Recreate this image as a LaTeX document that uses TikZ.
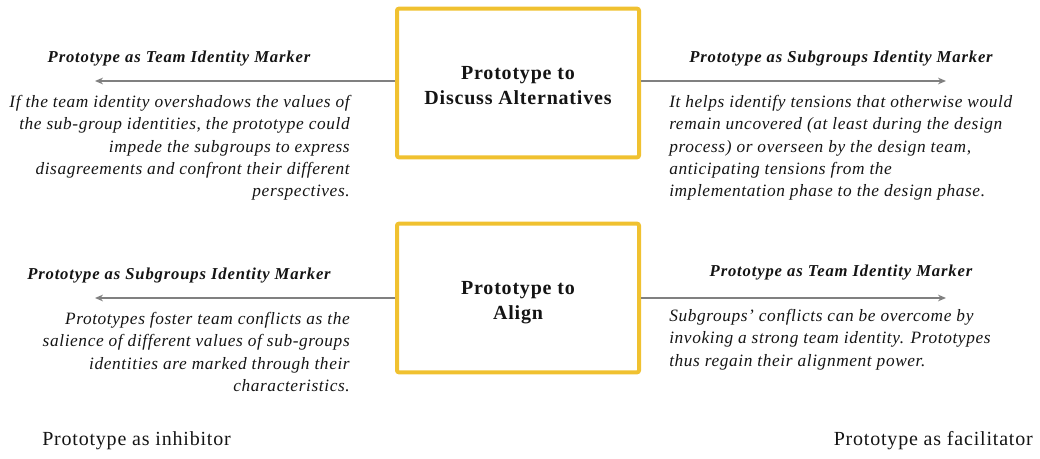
\documentclass[tikz,border=0pt]{standalone}
\usepackage{fontspec}
\setmainfont{Liberation Serif}
\newfontfamily\boxfont[LetterSpace=4]{Liberation Serif}
\newfontfamily\headfont[LetterSpace=5]{Liberation Serif}
\newfontfamily\parafont[LetterSpace=3.5]{Liberation Serif}
\newfontfamily\footfont[LetterSpace=4]{Liberation Serif}
\usetikzlibrary{arrows.meta}
\definecolor{gold}{RGB}{240,193,48}
\definecolor{arrgray}{RGB}{128,128,128}
\definecolor{txt}{RGB}{20,20,20}
\tikzset{
  box/.style={draw=gold, line width=3pt, rounded corners=1.5pt, minimum width=181.5pt, minimum height=111.5pt, align=center, font=\boxfont\fontsize{15}{19}\selectfont\bfseries, text=txt},
  arr/.style={draw=arrgray, line width=1.1pt, -{Stealth[length=6pt,width=5pt]}},
  head/.style={font=\headfont\fontsize{12.5}{14}\selectfont\bfseries\itshape, text=txt, inner sep=0pt},
  para/.style={font=\parafont\fontsize{13}{16.7}\selectfont\itshape, text=txt, inner sep=0pt},
  foot/.style={font=\footfont\fontsize{15}{17}\selectfont, text=txt, inner sep=0pt}
}
\begin{document}
\begin{tikzpicture}[x=0.75pt,y=-0.75pt]
\useasboundingbox (0,0) rectangle (1040,459);
\node[box] (b1) at (518,83) {\rule{0pt}{14pt}Prototype to\\Discuss Alternatives};
\node[box] (b2) at (518,298) {\rule{0pt}{17pt}Prototype to\\Align};
\coordinate (l1) at (95,81);
\coordinate (r1) at (946,81);
\coordinate (l2) at (95,298);
\coordinate (r2) at (946,298);
\draw[arr] (b1.west |- l1) -- (l1);
\draw[arr] (b1.east |- r1) -- (r1);
\draw[arr] (b2.west |- l2) -- (l2);
\draw[arr] (b2.east |- r2) -- (r2);
\node[head] (h1) at (179,59) {Prototype as Team Identity Marker};
\node[head] (h2) at (841,59) {Prototype as Subgroups Identity Marker};
\node[head] (h3) at (179,276) {Prototype as Subgroups Identity Marker};
\node[head] (h4) at (841,273) {Prototype as Team Identity Marker};
\node[para, anchor=north east, align=right] (p1) at (350,95) {If the team identity overshadows the values of\\the sub-group identities, the prototype could\\impede the subgroups to express\\disagreements and confront their different\\perspectives.};
\node[para, anchor=north west, align=left] (p2) at (669,95) {It helps identify tensions that otherwise would\\remain uncovered (at least during the design\\process) or overseen by the design team,\\anticipating tensions from the\\implementation phase to the design phase.};
\node[para, anchor=north east, align=right] (p3) at (350,312) {Prototypes foster team conflicts as the\\salience of different values of sub-groups\\identities are marked through their\\characteristics.};
\node[para, anchor=north west, align=left] (p4) at (669,309) {Subgroups’ conflicts can be overcome by\\invoking a strong team identity. Prototypes\\thus regain their alignment power.};
\node[foot, anchor=west] (f1) at (42,441) {Prototype as inhibitor};
\node[foot, anchor=east] (f2) at (1033,441) {Prototype as facilitator};
\end{tikzpicture}
\end{document}
